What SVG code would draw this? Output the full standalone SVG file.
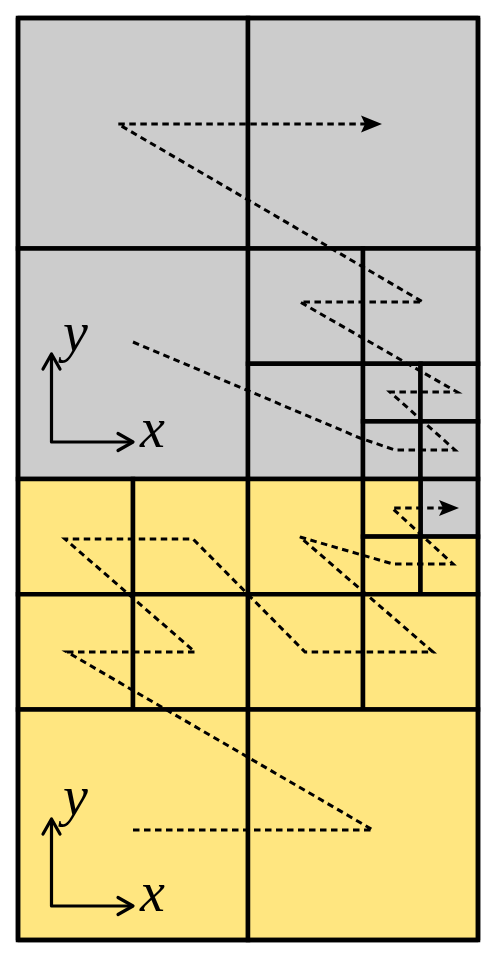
<svg xmlns="http://www.w3.org/2000/svg" width="497" height="960" viewBox="0 0 497 960">
<style>
.g{fill:#cccccc;stroke:#000;stroke-width:4.5}
.y{fill:#ffe680;stroke:#000;stroke-width:4.5}
.d{fill:none;stroke:#000;stroke-width:3;stroke-dasharray:6.5 4.5;stroke-linejoin:miter}
.ax{fill:none;stroke:#000;stroke-width:3.2;stroke-linecap:round;stroke-linejoin:round}
.lab{font-family:"Liberation Serif","DejaVu Serif",serif;font-style:italic;font-size:56px;fill:#000}
</style>
<rect x="0" y="0" width="497" height="960" fill="#fff"/>
<g id="cells-gray">
<rect class="g" x="18" y="18" width="230" height="230.5"/>
<rect class="g" x="248" y="18" width="230" height="230.5"/>
<rect class="g" x="18" y="248.5" width="230" height="230.5"/>
<rect class="g" x="248" y="248.5" width="115" height="115.25"/>
<rect class="g" x="363" y="248.5" width="115" height="115.25"/>
<rect class="g" x="248" y="363.75" width="115" height="115.25"/>
<rect class="g" x="363" y="363.75" width="57.5" height="57.65"/>
<rect class="g" x="420.5" y="363.75" width="57.5" height="57.65"/>
<rect class="g" x="363" y="421.4" width="57.5" height="57.6"/>
<rect class="g" x="420.5" y="421.4" width="57.5" height="57.6"/>
<rect class="g" x="420.5" y="479" width="57.5" height="57.6"/>
</g>
<g id="cells-yellow">
<rect class="y" x="18" y="479" width="115" height="115.25"/>
<rect class="y" x="133" y="479" width="115" height="115.25"/>
<rect class="y" x="18" y="594.25" width="115" height="115.25"/>
<rect class="y" x="133" y="594.25" width="115" height="115.25"/>
<rect class="y" x="248" y="479" width="115" height="115.25"/>
<rect class="y" x="363" y="479" width="57.5" height="57.6"/>
<rect class="y" x="363" y="536.6" width="57.5" height="57.65"/>
<rect class="y" x="420.5" y="536.6" width="57.5" height="57.65"/>
<rect class="y" x="248" y="594.25" width="115" height="115.25"/>
<rect class="y" x="363" y="594.25" width="115" height="115.25"/>
<rect class="y" x="18" y="709.5" width="230" height="230.5"/>
<rect class="y" x="248" y="709.5" width="230" height="230.5"/>
</g>
<rect x="18" y="18" width="460" height="922" fill="none" stroke="#000" stroke-width="4.5" stroke-linejoin="round"/>
<g id="connectors">
<path class="d" d="M133,342 L360,438 L395,450 L455,450 L390,392 L457,392 L300,302 L423,302 L118,124 L366,124"/>
<path d="M382,124 L361,115.5 L365,124 L361,132.5 Z" fill="#000"/>
<path class="d" d="M133,830 L373,830 L67,652 L195,652 L65,539 L193,539 L305,652 L433,652 L300,537 L393,564 L453,564 L392,508 L443,508"/>
<path d="M459,508 L439,500 L443,508 L439,516 Z" fill="#000"/>
</g>
<g id="axes-top">
<path class="ax" d="M51.5,355 L51.5,442 L131,442"/>
<path class="ax" d="M43,369 L51.5,354 L60,369"/>
<path class="ax" d="M118,433.5 L133,442 L118,450.5"/>
<text class="lab" x="63" y="351">y</text>
<text class="lab" x="140" y="447">x</text>
</g>
<g id="axes-bottom">
<path class="ax" d="M51.5,820 L51.5,906 L131,906"/>
<path class="ax" d="M43,834 L51.5,819 L60,834"/>
<path class="ax" d="M118,897.5 L133,906 L118,914.5"/>
<text class="lab" x="63" y="815">y</text>
<text class="lab" x="140" y="911">x</text>
</g>
</svg>
